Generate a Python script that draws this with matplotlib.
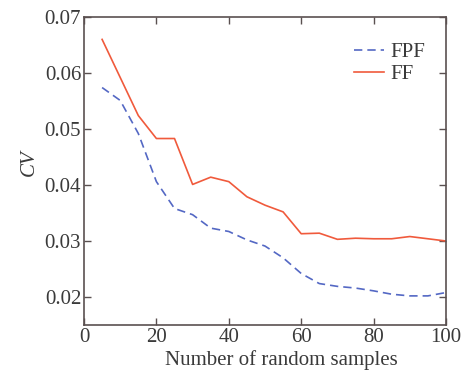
import numpy as np
import matplotlib
matplotlib.use("Agg")
import matplotlib.pyplot as plt

plt.rcParams["font.family"] = ["Liberation Serif", "DejaVu Serif"]
plt.rcParams["mathtext.fontset"] = "stix"

samples = [5, 10, 15, 20, 25, 30, 35, 40, 45, 50, 55, 60, 65, 70, 75, 80, 85, 90, 95, 100]
fpf = [0.0574, 0.0551, 0.0492, 0.0406, 0.0358, 0.0347, 0.0323, 0.0317, 0.0302, 0.0291,
       0.0270, 0.0242, 0.0224, 0.0219, 0.0216, 0.0211, 0.0205, 0.0202, 0.0202, 0.0208]
ff = [0.0660, 0.0592, 0.0524, 0.0483, 0.0483, 0.0401, 0.0414, 0.0406, 0.0379, 0.0364,
      0.0352, 0.0313, 0.0314, 0.0303, 0.0305, 0.0304, 0.0304, 0.0308, 0.0304, 0.0300]

axis_col = "#5a5050"
text_col = "#3a3a3a"

fig = plt.figure(figsize=(4.68, 3.76), dpi=100)
ax = fig.add_axes([0.1795, 0.1356, 0.7735, 0.8192])

ax.plot(samples, fpf, color="#5468c4", lw=1.2, ls=(0, (5, 3)), label="FPF")
ax.plot(samples, ff, color="#f05a3c", lw=1.2, label="FF")

ax.set_xlim(0, 100)
ax.set_ylim(0.015, 0.07)
ax.set_xticks([0, 20, 40, 60, 80, 100])
ax.set_yticks([0.02, 0.03, 0.04, 0.05, 0.06, 0.07])
ax.set_yticklabels(["0.02", "0.03", "0.04", "0.05", "0.06", "0.07"])

for s in ax.spines.values():
    s.set_color(axis_col)
    s.set_linewidth(1.2)
ax.tick_params(direction="in", top=True, right=True, length=5, width=1,
               color=axis_col, labelsize=15, labelcolor=text_col, pad=2)

ax.set_xlabel("Number of random samples", fontsize=15, color=text_col, labelpad=5)
ax.xaxis.set_label_coords(0.544, -0.08, transform=ax.transAxes)
ax.xaxis.label.set_va("top")
ax.set_ylabel("CV", fontsize=15, color=text_col, style="italic", labelpad=4)
ax.yaxis.label.set_y(0.526)

leg = ax.legend(loc="upper right", bbox_to_anchor=(1.0, 0.984), frameon=False,
                fontsize=15, handlelength=1.45, borderaxespad=0.6,
                labelspacing=0.1, handletextpad=0.3)
for t in leg.get_texts():
    t.set_color(text_col)

fig.savefig("out.png", dpi=100)
